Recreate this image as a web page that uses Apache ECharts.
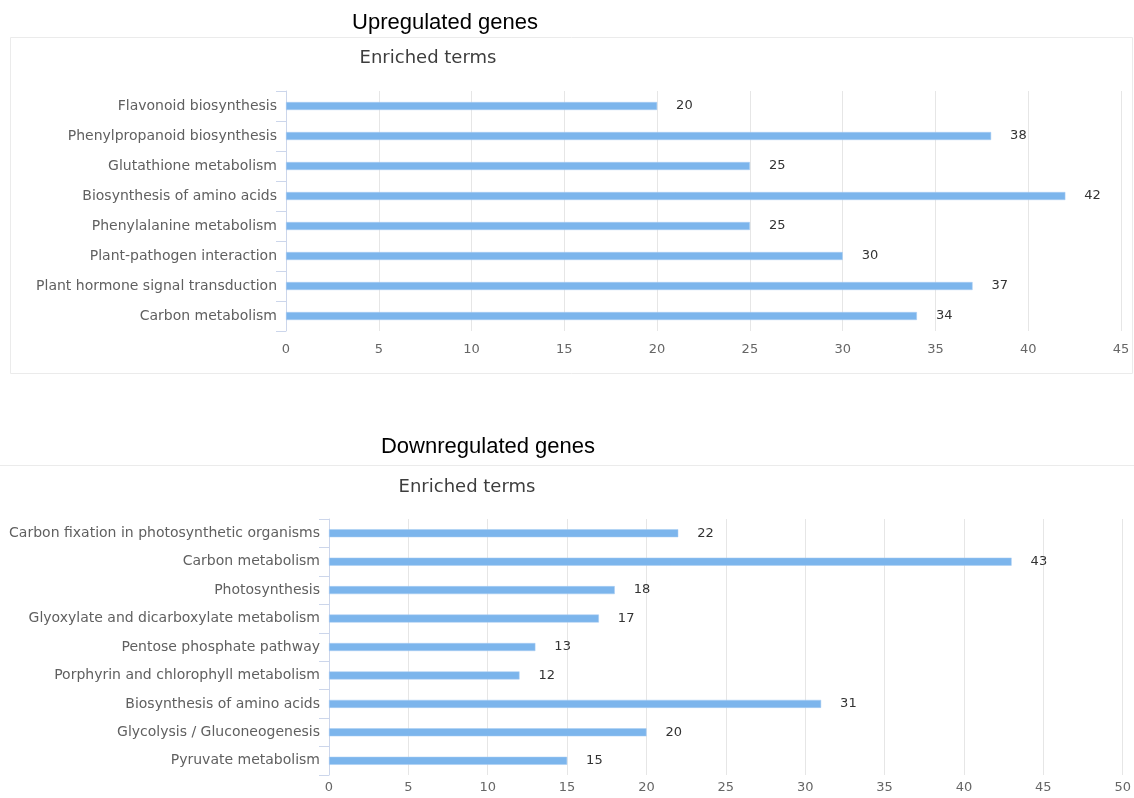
<!DOCTYPE html>
<html>
<head>
<meta charset="utf-8">
<script src="https://cdn.jsdelivr.net/npm/echarts@6/dist/echarts.min.js"></script>
<style>
  html, body { margin: 0; padding: 0; background: #fff; }
  #chart { width: 1134px; height: 798px; }
</style>
</head>
<body>
<div id="chart"></div>
<script>
// Enriched pathway terms and gene counts, listed top to bottom
const upTerms = [
  'Flavonoid biosynthesis',
  'Phenylpropanoid biosynthesis',
  'Glutathione metabolism',
  'Biosynthesis of amino acids',
  'Phenylalanine metabolism',
  'Plant-pathogen interaction',
  'Plant hormone signal transduction',
  'Carbon metabolism'
];
const upCounts = [20, 38, 25, 42, 25, 30, 37, 34];

const downTerms = [
  'Carbon fixation in photosynthetic organisms',
  'Carbon metabolism',
  'Photosynthesis',
  'Glyoxylate and dicarboxylate metabolism',
  'Pentose phosphate pathway',
  'Porphyrin and chlorophyll metabolism',
  'Biosynthesis of amino acids',
  'Glycolysis / Gluconeogenesis',
  'Pyruvate metabolism'
];
const downCounts = [22, 43, 18, 17, 13, 12, 31, 20, 15];

const upMax = 45;
const downMax = 50;
const tickStep = 5;

const labelFont = 'DejaVu Sans';
const barColor = '#7cb5ec';
const axisColor = '#ccd6eb';
const gridColor = '#e6e6e6';

function valueAxis(gridIndex, max, margin) {
  return {
    type: 'value', gridIndex, min: 0, max, interval: tickStep,
    axisLine: { show: false }, axisTick: { show: false },
    axisLabel: { color: '#666', fontFamily: labelFont, fontSize: 13, margin },
    splitLine: { show: true, lineStyle: { color: gridColor, width: 1 } }
  };
}

function categoryAxis(gridIndex, terms) {
  return {
    type: 'category', gridIndex, data: terms, inverse: true,
    axisLine: { show: true, lineStyle: { color: axisColor, width: 1 } },
    axisTick: { show: true, length: 10, inside: false, lineStyle: { color: axisColor } },
    axisLabel: { color: '#606060', fontFamily: labelFont, fontSize: 14, margin: 9 },
    splitLine: { show: false }
  };
}

function barSeries(idx, values, width) {
  return {
    type: 'bar', xAxisIndex: idx, yAxisIndex: idx, data: values,
    barWidth: width,
    itemStyle: { color: barColor, borderColor: '#a9cdf2', borderWidth: 0.5 },
    label: {
      show: true, position: 'right', distance: 19,
      color: '#333', fontFamily: labelFont, fontSize: 13
    },
    silent: true
  };
}

const chart = echarts.init(document.getElementById('chart'), null, { renderer: 'canvas' });
chart.setOption({
  animation: false,
  backgroundColor: '#fff',
  graphic: [
    { type: 'rect', shape: { x: 10.5, y: 37.5, width: 1122, height: 336 },
      style: { fill: 'none', stroke: '#ebebeb', lineWidth: 1 }, z: -1 },
    { type: 'rect', shape: { x: -1.5, y: 465.5, width: 1137, height: 400 },
      style: { fill: 'none', stroke: '#ebebeb', lineWidth: 1 }, z: -1 },
    { type: 'text', x: 445, y: 23,
      style: { text: 'Upregulated genes', fontFamily: 'Liberation Sans', fontSize: 22,
               fill: '#000', align: 'center', verticalAlign: 'middle' } },
    { type: 'text', x: 428, y: 58,
      style: { text: 'Enriched terms', fontFamily: labelFont, fontSize: 18,
               fill: '#3d3d3d', align: 'center', verticalAlign: 'middle' } },
    { type: 'text', x: 488, y: 447,
      style: { text: 'Downregulated genes', fontFamily: 'Liberation Sans', fontSize: 22,
               fill: '#000', align: 'center', verticalAlign: 'middle' } },
    { type: 'text', x: 467, y: 487,
      style: { text: 'Enriched terms', fontFamily: labelFont, fontSize: 18,
               fill: '#3d3d3d', align: 'center', verticalAlign: 'middle' } }
  ],
  grid: [
    { left: 286, right: 13, top: 91, height: 240, containLabel: false },
    { left: 329, right: 9, top: 519, height: 256, containLabel: false }
  ],
  xAxis: [valueAxis(0, upMax, 12), valueAxis(1, downMax, 6)],
  yAxis: [categoryAxis(0, upTerms), categoryAxis(1, downTerms)],
  series: [barSeries(0, upCounts, 8), barSeries(1, downCounts, 8)]
});
</script>
</body>
</html>
